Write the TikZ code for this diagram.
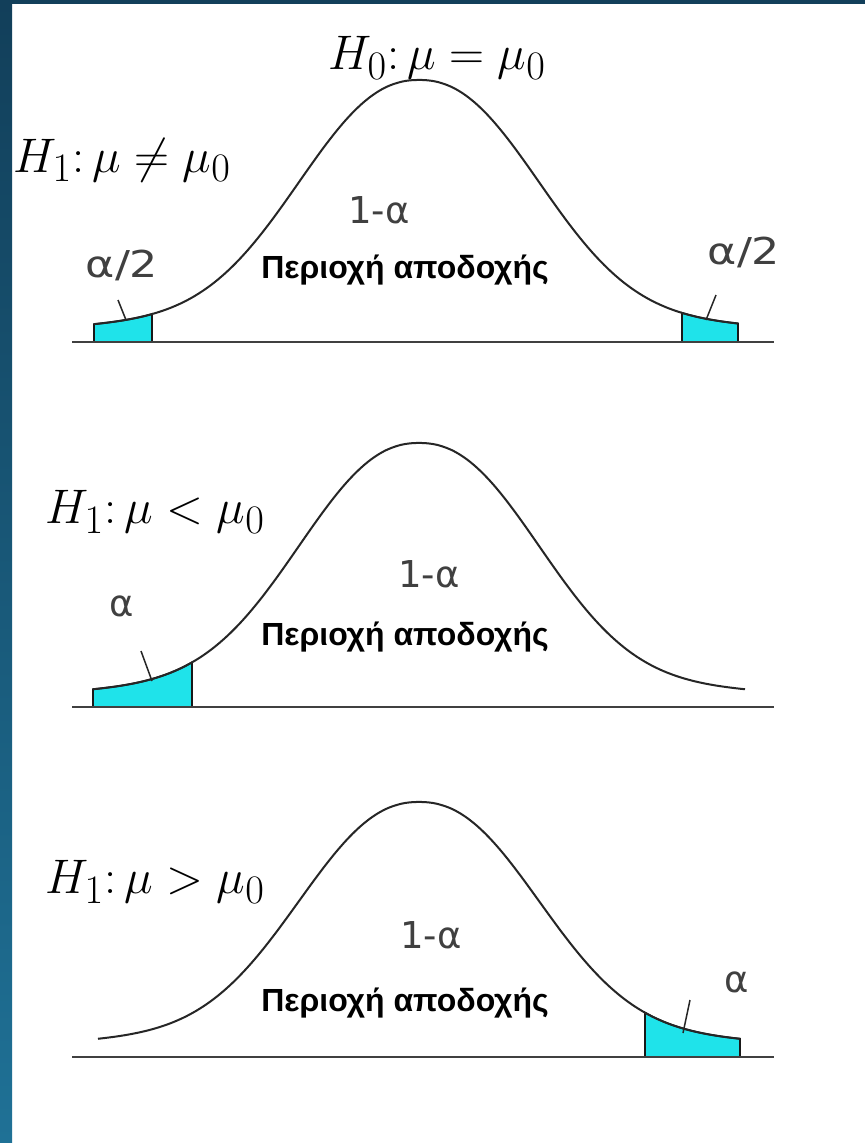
\documentclass[tikz,border=0pt]{standalone}
\usepackage{fontspec}
\setmainfont{DejaVu Sans}
\newfontfamily\arialgr{Liberation Sans}
\usepackage{graphicx}
\usepackage{xcolor}
\usepackage{tikz}
\usetikzlibrary{positioning}

\definecolor{frametop}{HTML}{123F5A}
\definecolor{framebot}{HTML}{1F7196}
\definecolor{tailfill}{HTML}{1FE3EA}

\newcommand{\hypbig}[1]{\scalebox{1.95}{$#1$}}
\newcommand{\halfa}{\scalebox{1.2}[1]{α/2}}
\tikzset{declare function={bell(\x,\c,\a)=(\a-30)*exp(-(abs((\x-\c)/155)+0.00001)^2.25)+30*exp(-((\x-\c)/300)^2/2);}}

\begin{document}
\begin{tikzpicture}[x=1pt, y=-1pt,
  hyp/.style={font=\fontsize{24.88}{30}\selectfont},
  prob/.style={text=black!75, font=\fontsize{37}{42}\selectfont},
  region/.style={font=\arialgr\bfseries\fontsize{32}{38}\selectfont},
  curve/.style={black!85, line width=2pt},
  axis/.style={black!75, line width=2.4pt},
  tail/.style={fill=tailfill, draw=black!90, line width=1.8pt},
  pointer/.style={black!85, line width=1.5pt}]
  \useasboundingbox (0,0) rectangle (865,1143);
  \fill[white] (0,0) rectangle (865,1143);
  \shade[top color=frametop, bottom color=framebot] (0,0) rectangle (12,1143);
  \fill[frametop] (0,0) rectangle (865,4);

  % two-sided test
  \begin{scope}[shift={(0,342)}]
    \filldraw[tail] (94,0) -- plot[domain=94:152, samples=20] (\x,{-bell(\x,419,262)}) -- (152,0) -- cycle;
    \filldraw[tail] (682,0) -- plot[domain=682:738, samples=20] (\x,{-bell(\x,419,262)}) -- (738,0) -- cycle;
    \draw[axis] (72,0) -- (774,0);
    \draw[curve] plot[domain=94:738, samples=160, smooth] (\x,{-bell(\x,419,262)});
    \coordinate (p1a) at (118,-42);  \coordinate (p1b) at (126,-22);
    \coordinate (p1c) at (716,-47);  \coordinate (p1d) at (706,-22);
    \draw[pointer] (p1a) -- (p1b);
    \draw[pointer] (p1c) -- (p1d);
    \node[hyp] (h0) at (437,-284) {\hypbig{H_0\colon \mu=\mu_0}};
    \node[hyp] (h1) at (122,-182) {\hypbig{H_1\colon \mu\neq\mu_0}};
    \node[prob] (one1) at (379,-132) {1-α};
    \node[region] (acc1) at (405,-72) {Περιοχή αποδοχής};
    \node[prob] (lt1) at (122,-77) {\halfa};
    \node[prob] (rt1) at (744,-90) {\halfa};
  \end{scope}

  % left-sided test
  \begin{scope}[shift={(0,707)}]
    \filldraw[tail] (93,0) -- plot[domain=93:192, samples=25] (\x,{-bell(\x,419,264)}) -- (192,0) -- cycle;
    \draw[axis] (72,0) -- (774,0);
    \draw[curve] plot[domain=93:745, samples=160, smooth] (\x,{-bell(\x,419,264)});
    \coordinate (p2a) at (141,-56);  \coordinate (p2b) at (152,-26);
    \draw[pointer] (p2a) -- (p2b);
    \node[hyp] (h2) at (155,-195) {\hypbig{H_1\colon \mu<\mu_0}};
    \node[prob] (one2) at (429,-133) {1-α};
    \node[region] (acc2) at (405,-70) {Περιοχή αποδοχής};
    \node[prob] (lt2) at (122,-101) {α};
  \end{scope}

  % right-sided test
  \begin{scope}[shift={(0,1057)}]
    \filldraw[tail] (645,0) -- plot[domain=645:740, samples=25] (\x,{-bell(\x,419,255)}) -- (740,0) -- cycle;
    \draw[axis] (72,0) -- (774,0);
    \draw[curve] plot[domain=98:740, samples=160, smooth] (\x,{-bell(\x,419,255)});
    \coordinate (p3a) at (690,-57);  \coordinate (p3b) at (683,-24);
    \draw[pointer] (p3a) -- (p3b);
    \node[hyp] (h3) at (155,-175) {\hypbig{H_1\colon \mu>\mu_0}};
    \node[prob] (one3) at (431,-122) {1-α};
    \node[region] (acc3) at (405,-54) {Περιοχή αποδοχής};
    \node[prob] (rt3) at (737,-75) {α};
  \end{scope}
\end{tikzpicture}
\end{document}
